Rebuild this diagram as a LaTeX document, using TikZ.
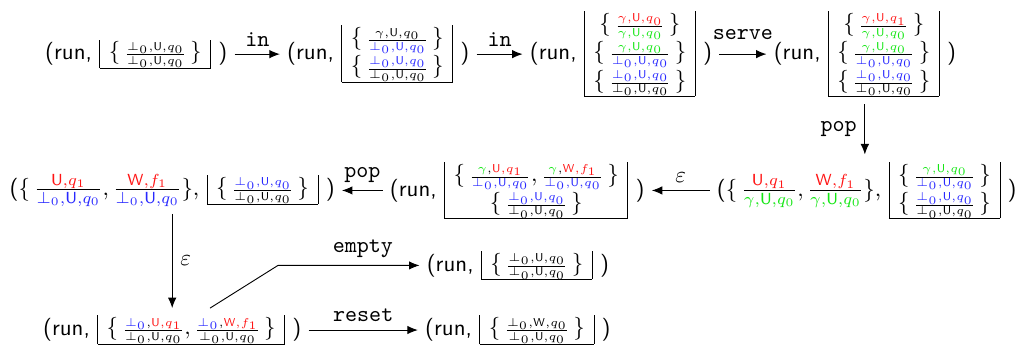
\documentclass[tikz,border=0pt]{standalone}
\usepackage{amsmath}
\usepackage{xcolor}
\usetikzlibrary{arrows.meta}

\definecolor{cred}{RGB}{255,20,20}
\definecolor{cgreen}{RGB}{20,230,20}
\definecolor{cblue}{RGB}{40,40,255}

\newcommand{\bt}{\bot_0}
\newcommand{\sU}{\mathsf{U}}
\newcommand{\sW}{\mathsf{W}}
\newcommand{\rd}[1]{{\color{cred}#1}}
\newcommand{\gr}[1]{{\color{cgreen}#1}}
\newcommand{\bl}[1]{{\color{cblue}#1}}
\newcommand{\fr}[2]{{\scriptstyle\frac{#1}{#2}}}
\newcommand{\stk}[1]{{\setlength{\tabcolsep}{4pt}\begin{tabular}{|c|}#1\\\hline\end{tabular}}}
\newcommand{\run}{\textsf{(run,}}

\begin{document}
\begin{tikzpicture}[
    state/.style={inner sep=3pt},
    flow/.style={-{Latex[length=1.6mm,width=1.3mm]}, thin},
    lbl/.style={font=\ttfamily}
]
    \useasboundingbox (0,0) rectangle (15.7,5.43);

    % Row 1
    \node[state] (A) at (2.09,4.60) {\run\ \stk{$\{\,\fr{\bt,\sU,q_0}{\bt,\sU,q_0}\,\}$}\ \textsf{)}};
    \node[state] (B) at (5.80,4.60) {\run\ \stk{$\{\,\fr{\gamma,\sU,q_0}{\bl{\bt,\sU,q_0}}\,\}$\\$\{\,\fr{\bl{\bt,\sU,q_0}}{\bt,\sU,q_0}\,\}$}\ \textsf{)}};
    \node[state] (C) at (9.52,4.60) {\run\ \stk{$\{\,\fr{\rd{\gamma,\sU,q_0}}{\gr{\gamma,\sU,q_0}}\,\}$\\$\{\,\fr{\gr{\gamma,\sU,q_0}}{\bl{\bt,\sU,q_0}}\,\}$\\$\{\,\fr{\bl{\bt,\sU,q_0}}{\bt,\sU,q_0}\,\}$}\ \textsf{)}};
    \node[state] (D) at (13.26,4.60) {\run\ \stk{$\{\,\fr{\rd{\gamma,\sU,q_1}}{\gr{\gamma,\sU,q_0}}\,\}$\\$\{\,\fr{\gr{\gamma,\sU,q_0}}{\bl{\bt,\sU,q_0}}\,\}$\\$\{\,\fr{\bl{\bt,\sU,q_0}}{\bt,\sU,q_0}\,\}$}\ \textsf{)}};
    \draw[flow] (A) -- node[above, lbl] {in} (B);
    \draw[flow] (B) -- node[above, lbl] {in} (C);
    \draw[flow] (C) -- node[above, lbl, yshift=3pt] {serve} (D);

    % Row 2
    \node[state] (E) at (13.29,2.51) {\textsf{(}$\{\,\frac{\rd{\sU,q_1}}{\gr{\gamma,\sU,q_0}},\frac{\rd{\sW,f_1}}{\gr{\gamma,\sU,q_0}}\}$, \stk{$\{\,\fr{\gr{\gamma,\sU,q_0}}{\bl{\bt,\sU,q_0}}\,\}$\\$\{\,\fr{\bl{\bt,\sU,q_0}}{\bt,\sU,q_0}\,\}$}\ \textsf{)}};
    \node[state] (F) at (7.93,2.51) {\run\ \stk{$\{\,\fr{\gr{\gamma},\rd{\sU,q_1}}{\bl{\bt,\sU,q_0}},\fr{\gr{\gamma},\rd{\sW,f_1}}{\bl{\bt,\sU,q_0}}\,\}$\\$\{\,\fr{\bl{\bt,\sU,q_0}}{\bt,\sU,q_0}\,\}$}\ \textsf{)}};
    \node[state] (G) at (2.64,2.51) {\textsf{(}$\{\,\frac{\rd{\sU,q_1}}{\bl{\bt,\sU,q_0}},\frac{\rd{\sW,f_1}}{\bl{\bt,\sU,q_0}}\}$, \stk{$\{\,\fr{\bl{\bt,\sU,q_0}}{\bt,\sU,q_0}\,\}$}\ \textsf{)}};
    \draw[flow] (D.south) -- node[left, lbl] {pop} (D.south |- E.north);
    \draw[flow] (E) -- node[above] {$\varepsilon$} (F);
    \draw[flow] (F) -- node[above, lbl] {pop} (G);

    % Row 3
    \node[state] (H) at (2.64,0.37) {\run\ \stk{$\{\,\fr{\bl{\bt},\rd{\sU,q_1}}{\bt,\sU,q_0},\fr{\bl{\bt},\rd{\sW,f_1}}{\bt,\sU,q_0}\,\}$}\ \textsf{)}};
    \node[state] (I) at (7.94,0.37) {\run\ \stk{$\{\,\fr{\bt,\sW,q_0}{\bt,\sU,q_0}\,\}$}\ \textsf{)}};
    \node[state] (J) at (7.94,1.36) {\run\ \stk{$\{\,\fr{\bt,\sU,q_0}{\bt,\sU,q_0}\,\}$}\ \textsf{)}};
    \draw[flow] (G.south) -- node[right] {$\varepsilon$} (G.south |- H.north);
    \draw[flow] (H) -- node[above, lbl] {reset} (I);
    \draw[flow] ([xshift=0.58cm]H.north) -- ([xshift=-2.17cm]J.west) -- node[above, lbl, pos=0.6] {empty} (J.west);

\end{tikzpicture}
\end{document}
